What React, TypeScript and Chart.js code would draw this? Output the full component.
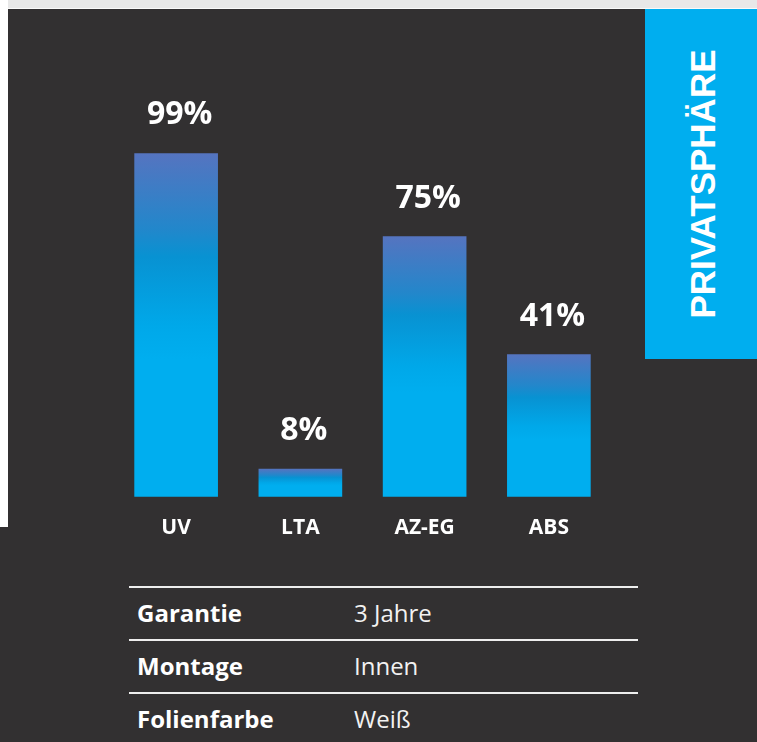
import React, { useEffect, useRef } from "react";
import { Chart, registerables } from "chart.js";

Chart.register(...registerables);

const categories = ["UV", "LTA", "AZ-EG", "ABS"];
const values = [99, 8, 75, 41];
const valueLabels = ["99%", "8%", "75%", "41%"];
const tableKeys = ["Garantie", "Montage", "Folienfarbe"];
const tableVals = ["3 Jahre", "Innen", "Weiß"];
const sideTitle = "PRIVATSPHÄRE";

const DARK = "#323031";
const BLUE = "#00aeef";

const labelPlugin = {
  id: "valueLabels",
  afterDatasetsDraw(chart: any) {
    const ctx = chart.ctx;
    const meta = chart.getDatasetMeta(0);
    ctx.save();
    ctx.fillStyle = "#ffffff";
    ctx.font = "bold 32px 'Open Sans'";
    ctx.textAlign = "center";
    ctx.textBaseline = "alphabetic";
    meta.data.forEach((bar: any, i: number) => {
      ctx.fillText(valueLabels[i], bar.x + 3.5, bar.y - 29);
    });
    ctx.restore();
  },
};

export default function App() {
  const ref = useRef<HTMLCanvasElement>(null);
  useEffect(() => {
    if (!ref.current) return;
    const chart = new Chart(ref.current, {
      type: "bar",
      data: {
        labels: categories,
        datasets: [
          {
            data: values,
            backgroundColor: (c: any) => {
              const ch = c.chart;
              const ys = ch.scales && ch.scales.y;
              if (!ch.chartArea || !ys || c.raw == null) return BLUE;
              const top = ys.getPixelForValue(c.raw);
              const bot = ys.getPixelForValue(0);
              if (!isFinite(top) || !isFinite(bot) || bot - top < 1) return BLUE;
              const g = ch.ctx.createLinearGradient(0, top, 0, bot);
              g.addColorStop(0, "#5574c0");
              g.addColorStop(0.22, "#2287cb");
              g.addColorStop(0.3, "#0892d2");
              g.addColorStop(0.5, "#00a8e9");
              g.addColorStop(0.6, "#00aeef");
              g.addColorStop(1, "#00aeef");
              return g;
            },
            borderWidth: 0,
            barThickness: 83,
          },
        ],
      },
      options: {
        animation: false,
        responsive: false,
        maintainAspectRatio: false,
        layout: { padding: { top: 100, left: 14, right: 49, bottom: 0 } },
        plugins: {
          legend: { display: false },
          tooltip: { enabled: false },
        },
        scales: {
          y: { display: false, min: 0, max: 100 },
          x: {
            grid: { display: false, drawTicks: false },
            border: { display: false },
            ticks: {
              color: "#ffffff",
              padding: 19,
              font: { family: "'Open Sans'", size: 21, weight: "bold" },
            },
          },
        },
      },
      plugins: [labelPlugin],
    });
    return () => chart.destroy();
  }, []);

  const rowTop = [586, 639, 692];

  return (
    <div
      style={{
        position: "fixed",
        left: 0,
        top: 0,
        width: 757,
        height: 742,
        background: DARK,
        overflow: "hidden",
        fontFamily: "'Open Sans', sans-serif",
      }}
    >
      <div style={{ position: "absolute", left: 0, top: 0, width: 757, height: 8, background: "#e8e8e8" }} />
      <div style={{ position: "absolute", left: 0, top: 8, width: 757, height: 1, background: "#fafafa" }} />
      <div style={{ position: "absolute", left: 0, top: 0, width: 8, height: 527, background: "#ffffff" }} />
      <div
        style={{
          position: "absolute",
          left: 645,
          top: 9,
          width: 112,
          height: 350,
          background: BLUE,
        }}
      >
        <div
          style={{
            position: "absolute",
            left: 57,
            top: 175,
            transform: "translate(-50%, -50%) rotate(-90deg)",
            whiteSpace: "nowrap",
            color: "#ffffff",
            fontFamily: "'Liberation Sans', Arial, sans-serif",
            fontWeight: "bold",
            fontSize: 35,
            lineHeight: "35px",
          }}
        >
          {sideTitle}
        </div>
      </div>
      <canvas
        ref={ref}
        width={560}
        height={510}
        style={{ position: "absolute", left: 100, top: 50, width: 560, height: 510 }}
      />
      {rowTop.map((t, i) => (
        <React.Fragment key={i}>
          <div style={{ position: "absolute", left: 129, top: t, width: 509, height: 2, background: "#eeeeee" }} />
          <div
            style={{
              position: "absolute",
              left: 137,
              top: t + 1,
              height: 51,
              lineHeight: "51px",
              fontSize: 24,
              fontWeight: "bold",
              color: "#ffffff",
            }}
          >
            {tableKeys[i]}
          </div>
          <div
            style={{
              position: "absolute",
              left: 354,
              top: t + 1,
              height: 51,
              lineHeight: "51px",
              fontSize: 24,
              color: "#f2f2f2",
            }}
          >
            {tableVals[i]}
          </div>
        </React.Fragment>
      ))}
    </div>
  );
}
